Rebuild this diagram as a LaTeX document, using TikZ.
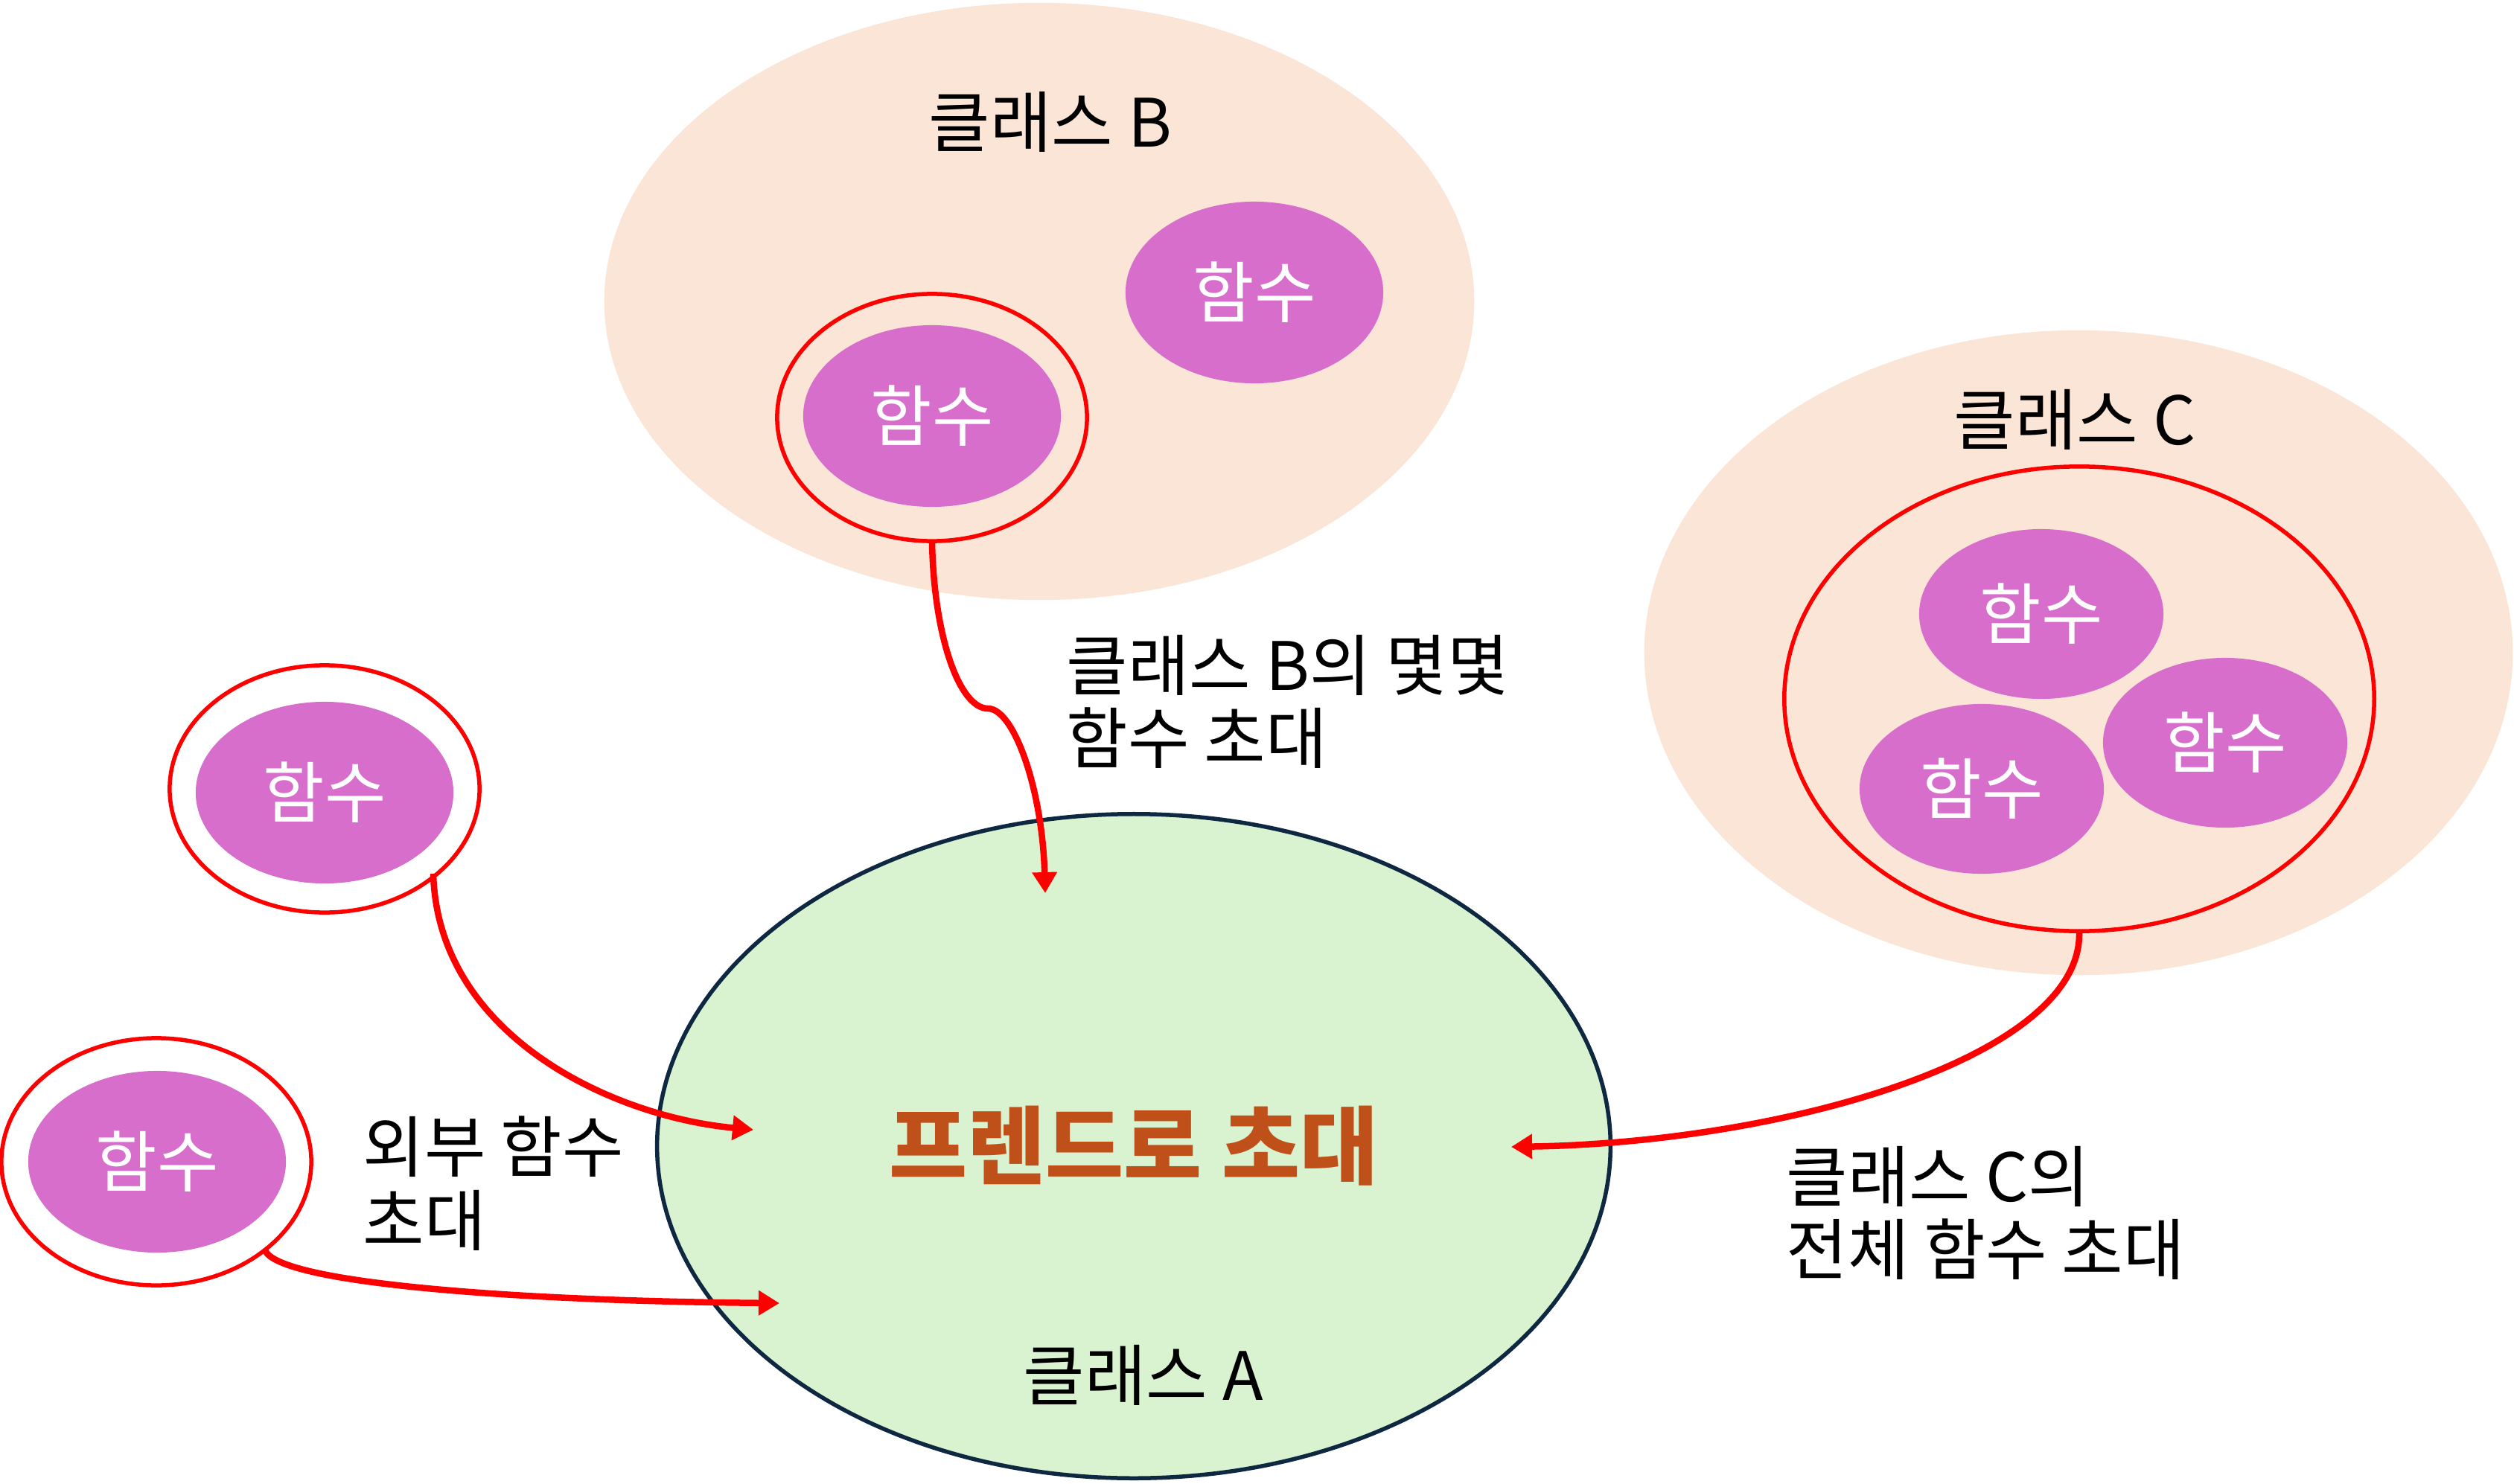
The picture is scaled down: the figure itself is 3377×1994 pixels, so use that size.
\documentclass[tikz,border=0pt]{standalone}
\usepackage{fontspec}
\setmainfont{Noto Sans CJK KR}
\usetikzlibrary{shapes.geometric,arrows.meta}
\definecolor{peach}{HTML}{FBE5D6}
\definecolor{mint}{HTML}{D9F2D0}
\definecolor{orchid}{HTML}{D86ECC}
\definecolor{navy}{HTML}{0E2841}
\definecolor{rust}{HTML}{C0501A}
\definecolor{redline}{HTML}{FF0000}
\tikzset{
  classbg/.style={ellipse, fill=peach, draw=none, inner sep=0pt},
  func/.style={ellipse, fill=orchid, draw=none, inner sep=0pt,
    minimum width=3.46cm, minimum height=2.44cm,
    text=white, font=\fontsize{25.5pt}{28pt}\selectfont},
  ring/.style={ellipse, draw=redline, line width=0.055cm, inner sep=0pt},
  lbl/.style={inner sep=0pt, font=\fontsize{25.5pt}{28pt}\selectfont},
  call/.style={draw=redline, line width=0.085cm,
    -{Triangle[length=0.28cm,width=0.32cm]}}
}
\begin{document}
\begin{tikzpicture}[x=0.01cm,y=-0.01cm]
\useasboundingbox (0,0) rectangle (3377,1994);
% class B
\node[classbg, minimum width=11.68cm, minimum height=8.02cm] (clsB) at (1396,405) {};
\node[lbl] (labB) at (1411,164) {클래스 B};
\node[func] (fB1) at (1685,393) {함수};
\node[ring, minimum width=4.16cm, minimum height=3.32cm] (ringB) at (1252,561) {};
\node[func] (fB2) at (1252,559) {함수};
% class C
\node[classbg, minimum width=11.66cm, minimum height=8.66cm] (clsC) at (2792,877) {};
\node[lbl] (labC) at (2787,564) {클래스 C};
\node[ring, minimum width=7.92cm, minimum height=6.24cm] (ringC) at (2793,939) {};
\node[func, minimum width=3.28cm, minimum height=2.28cm] (fC1) at (2742,825) {함수};
\node[func, minimum width=3.28cm, minimum height=2.28cm] (fC2) at (2989,998) {함수};
\node[func, minimum width=3.28cm, minimum height=2.28cm] (fC3) at (2662,1060) {함수};
% class A
\node[ellipse, fill=mint, draw=navy, line width=0.055cm, inner sep=0pt,
  minimum width=12.8cm, minimum height=8.92cm] (clsA) at (1523,1540) {};
\node[inner sep=0pt, text=rust, font=\fontsize{32.5pt}{36pt}\selectfont\bfseries] (title) at (1523,1540) {프렌드로 초대};
\node[lbl] (labA) at (1536,1848) {클래스 A};
% outside functions
\node[ring, minimum width=4.16cm, minimum height=3.32cm] (ringL1) at (436,1060) {};
\node[func] (fL1) at (436,1065) {함수};
\node[ring, minimum width=4.16cm, minimum height=3.32cm] (ringL2) at (210,1561) {};
\node[func] (fL2) at (211,1561) {함수};
% labels
\node[lbl, anchor=west, align=left] (txtB) at (1432,943) {클래스 B의 몇몇\\함수 초대};
\node[lbl, anchor=west, align=left] (txtL) at (487,1590) {외부 함수\\초대};
\node[lbl, anchor=west, align=left] (txtC) at (2399,1630) {클래스 C의\\전체 함수 초대};
% arrow end points
\coordinate (tipB) at (1404,1200);
\coordinate (kinkB) at (1327,952);
\coordinate (tipL1) at (1012,1518);
\coordinate (tipL2) at (1047,1751);
\coordinate (tipC) at (2030,1541);
\coordinate (startL1) at (582,1174);
\coordinate (startL2) at (356,1680);
% arrows
\draw[call] (ringB.south) .. controls (1255,860) and (1290,952) .. (kinkB)
  .. controls (1362,952) and (1400,1060) .. (tipB);
\draw[call] (startL1) .. controls (588,1390) and (820,1500) .. (tipL1);
\draw[call] (startL2) .. controls (375,1725) and (700,1748) .. (tipL2);
\draw[call] (ringC.south) .. controls (2795,1420) and (2400,1535) .. (tipC);
\end{tikzpicture}
\end{document}
